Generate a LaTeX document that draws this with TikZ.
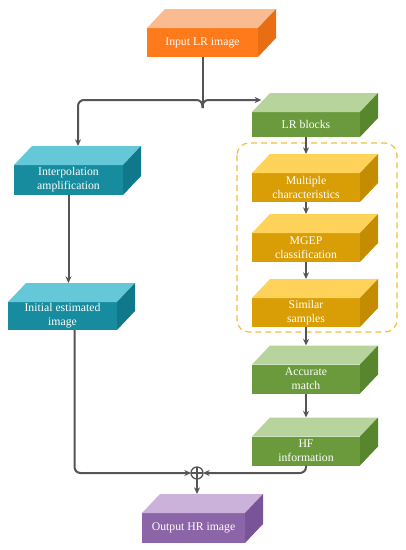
\documentclass[tikz,border=0pt]{standalone}
\usepackage{fontspec}
\setmainfont{Liberation Serif}
\usetikzlibrary{arrows.meta}

\definecolor{linegray}{HTML}{555555}
\definecolor{orangeF}{HTML}{FF7A1A}
\definecolor{orangeT}{HTML}{F9BC90}
\definecolor{orangeS}{HTML}{E86E14}
\definecolor{tealF}{HTML}{168C9E}
\definecolor{tealT}{HTML}{64C8D8}
\definecolor{tealS}{HTML}{0F788A}
\definecolor{greenF}{HTML}{6A9A3C}
\definecolor{greenT}{HTML}{B6D49C}
\definecolor{greenS}{HTML}{58862E}
\definecolor{goldF}{HTML}{D99E06}
\definecolor{goldT}{HTML}{FFD35A}
\definecolor{goldS}{HTML}{C48C00}
\definecolor{purpleF}{HTML}{8C64A8}
\definecolor{purpleT}{HTML}{CAB2DA}
\definecolor{purpleS}{HTML}{7A5498}
\definecolor{groupline}{HTML}{F4BC3C}

\tikzset{
  front/.style={inner sep=0pt, outer sep=0pt, minimum width=81.75pt, minimum height=21.75pt,
    text=white, align=center, font=\rmfamily\fontsize{8.8}{10.5}\selectfont},
  arr/.style={draw=linegray, line width=1.5pt, -{Stealth[length=5pt,width=4.5pt]}},
  wire/.style={draw=linegray, line width=1.5pt},
}

% top and right faces of a box, and the far edge of its top
\newcommand{\cubefaces}[3]{%
  \fill[#2] (#1.north west) -- ++(18,-19) -- ([shift={(18,-19)}]#1.north east) -- (#1.north east) -- cycle;
  \fill[#3] (#1.north east) -- ([shift={(18,-19)}]#1.north east) -- ([shift={(18,-19)}]#1.south east) -- (#1.south east) -- cycle;
  \coordinate (#1-top) at ([shift={(9,-19)}]#1.north);
}

\begin{document}
\begin{tikzpicture}[x=0.75pt, y=-0.75pt]
\useasboundingbox (0,0) rectangle (406,550);

% group of the matching steps
\draw[groupline, line width=0.9pt, dash pattern=on 4.5pt off 3pt, rounded corners=9pt] (237,143) rectangle (397,332);

\node[front, fill=orangeF, minimum width=83.25pt] (in) at (202.5,42.5) {Input LR image};
\cubefaces{in}{orangeT}{orangeS}

\node[front, fill=tealF, minimum height=22.5pt] (interp) at (68.5,180) {Interpolation\\amplification};
\cubefaces{interp}{tealT}{tealS}
\node[front, fill=tealF, minimum height=21pt] (init) at (62.5,316) {Initial estimated\\image};
\cubefaces{init}{tealT}{tealS}

\node[front, fill=greenF, minimum width=81pt, minimum height=18.75pt] (lrb) at (306,124.5) {LR blocks};
\cubefaces{lrb}{greenT}{greenS}
\node[front, fill=goldF, minimum width=81pt] (mc) at (306,187.5) {Multiple\\characteristics};
\cubefaces{mc}{goldT}{goldS}
\node[front, fill=goldF, minimum width=81pt] (mgep) at (306,247.5) {MGEP\\classification};
\cubefaces{mgep}{goldT}{goldS}
\node[front, fill=goldF, minimum width=81pt] (sim) at (306,312.5) {Similar\\samples};
\cubefaces{sim}{goldT}{goldS}
\node[front, fill=greenF, minimum width=81pt] (acc) at (306,379) {Accurate\\match};
\cubefaces{acc}{greenT}{greenS}
\node[front, fill=greenF, minimum width=81pt] (hf) at (306,451) {HF\\information};
\cubefaces{hf}{greenT}{greenS}

\node[front, fill=purpleF, minimum width=77.25pt, minimum height=22.5pt] (out) at (193.5,528) {Output HR image};
\cubefaces{out}{purpleT}{purpleS}

\node[draw=linegray, line width=1pt, circle, minimum size=9pt, inner sep=0pt, outer sep=0pt] (sum) at (197,473) {};
\draw[linegray, line width=1pt] (sum.north) -- (sum.south) (sum.west) -- (sum.east);

% split after the input
\coordinate (split) at (202.5,100);
\coordinate (lsplit) at (78,100);
\draw[wire] (in.south) -- ([yshift=-6]split);
\draw[arr, rounded corners=4.5pt] ([yshift=-6]split) |- (lsplit) -- (lsplit |- interp-top);
\draw[arr, rounded corners=4.5pt] ([yshift=-6]split) |- ([xshift=7]lrb.north west |- split);

\draw[arr] (interp.south) -- (interp.south |- init-top);
\draw[arr] (lrb.south) -- (lrb.south |- mc-top);
\draw[arr] (mc.south) -- (mc.south |- mgep-top);
\draw[arr] (mgep.south) -- (mgep.south |- sim-top);
\draw[arr] (sim.south) -- (sim.south |- acc-top);
\draw[arr] (acc.south) -- (acc.south |- hf-top);

\draw[arr, rounded corners=4.5pt] ([xshift=9]init.south) |- (sum.west);
\draw[arr, rounded corners=4.5pt] (hf.south) |- (sum.east);
\draw[arr] (sum.south) -- (sum.south |- out-top);
\end{tikzpicture}
\end{document}
